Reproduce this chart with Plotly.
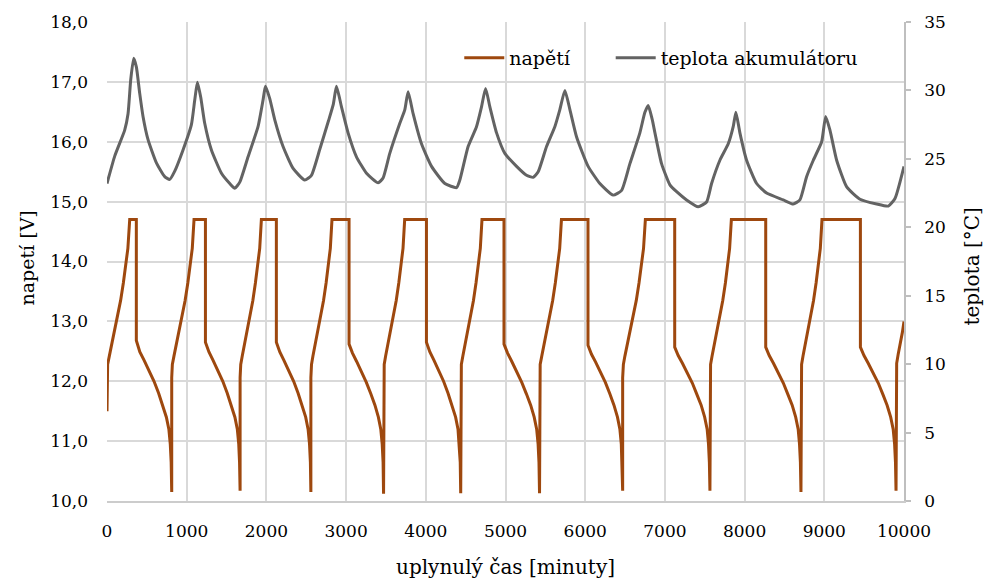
import plotly.graph_objects as go

# ---------------- data ----------------
# voltage [V] vs elapsed time [minutes]; one line per charge / discharge phase
volt_t = [
    0, 8, 29, 57, 94, 131, 171, 205, 237, 262, 285, 368,
    368, 412, 466, 528, 590, 648, 701, 745, 776, 794, 805, 812,
    812, 820, 840, 868, 904, 941, 980, 1014, 1044, 1070, 1092, 1235,
    1235, 1279, 1331, 1392, 1453, 1509, 1561, 1605, 1635, 1653, 1663, 1670,
    1670, 1678, 1697, 1723, 1758, 1793, 1830, 1862, 1892, 1916, 1937, 2125,
    2125, 2168, 2220, 2281, 2342, 2398, 2450, 2493, 2523, 2541, 2552, 2558,
    2558, 2566, 2584, 2611, 2645, 2680, 2717, 2749, 2778, 2802, 2823, 3037,
    3037, 3080, 3132, 3193, 3254, 3310, 3362, 3405, 3435, 3453, 3464, 3470,
    3470, 3478, 3496, 3523, 3557, 3592, 3629, 3661, 3690, 3714, 3735, 4008,
    4008, 4051, 4103, 4163, 4223, 4279, 4331, 4374, 4404, 4421, 4432, 4438,
    4438, 4446, 4465, 4491, 4526, 4561, 4598, 4630, 4660, 4684, 4705, 4981,
    4981, 5026, 5079, 5142, 5204, 5262, 5316, 5360, 5391, 5409, 5420, 5427,
    5427, 5435, 5455, 5482, 5518, 5554, 5592, 5625, 5655, 5680, 5702, 6035,
    6035, 6079, 6131, 6192, 6253, 6309, 6361, 6405, 6435, 6453, 6463, 6470,
    6470, 6479, 6498, 6527, 6564, 6601, 6641, 6675, 6707, 6732, 6755, 7123,
    7123, 7167, 7220, 7282, 7344, 7401, 7455, 7499, 7530, 7547, 7558, 7565,
    7565, 7573, 7592, 7619, 7654, 7689, 7726, 7759, 7788, 7812, 7834, 8265,
    8265, 8309, 8362, 8424, 8486, 8543, 8597, 8641, 8672, 8689, 8700, 8707,
    8707, 8715, 8733, 8760, 8794, 8828, 8865, 8897, 8926, 8950, 8971, 9453,
    9453, 9498, 9551, 9614, 9677, 9735, 9788, 9833, 9864, 9882, 9893, 9900,
    9900, 9908, 9927, 9953, 9980, 10000,
]
volt_v = [
    11.5, 12.28, 12.42, 12.6, 12.84, 13.06, 13.35, 13.64, 13.92, 14.22, 14.7, 14.7,
    12.68, 12.49, 12.35, 12.18, 12.0, 11.8, 11.6, 11.4, 11.2, 10.95, 10.65, 10.15,
    12.06, 12.28, 12.42, 12.6, 12.84, 13.06, 13.35, 13.64, 13.92, 14.22, 14.7, 14.7,
    12.65, 12.49, 12.35, 12.18, 12.0, 11.8, 11.6, 11.4, 11.2, 10.95, 10.65, 10.17,
    12.06, 12.28, 12.42, 12.6, 12.84, 13.06, 13.35, 13.64, 13.92, 14.22, 14.7, 14.7,
    12.65, 12.49, 12.35, 12.18, 12.0, 11.8, 11.6, 11.4, 11.2, 10.95, 10.65, 10.15,
    12.06, 12.28, 12.42, 12.6, 12.84, 13.06, 13.35, 13.64, 13.92, 14.22, 14.7, 14.7,
    12.62, 12.47, 12.33, 12.16, 11.98, 11.79, 11.6, 11.4, 11.2, 10.95, 10.65, 10.12,
    12.06, 12.28, 12.42, 12.6, 12.84, 13.06, 13.35, 13.64, 13.92, 14.22, 14.7, 14.7,
    12.65, 12.49, 12.35, 12.18, 12.0, 11.8, 11.6, 11.4, 11.2, 10.95, 10.65, 10.13,
    12.06, 12.28, 12.42, 12.6, 12.84, 13.06, 13.35, 13.64, 13.92, 14.22, 14.7, 14.7,
    12.62, 12.47, 12.33, 12.16, 11.98, 11.79, 11.6, 11.4, 11.2, 10.95, 10.65, 10.13,
    12.06, 12.28, 12.42, 12.6, 12.84, 13.06, 13.35, 13.64, 13.92, 14.22, 14.7, 14.7,
    12.6, 12.45, 12.32, 12.16, 11.98, 11.79, 11.6, 11.4, 11.2, 10.95, 10.65, 10.17,
    12.06, 12.28, 12.42, 12.6, 12.84, 13.06, 13.35, 13.64, 13.92, 14.22, 14.7, 14.7,
    12.57, 12.43, 12.3, 12.14, 11.97, 11.78, 11.6, 11.4, 11.2, 10.95, 10.65, 10.17,
    12.06, 12.28, 12.42, 12.6, 12.84, 13.06, 13.35, 13.64, 13.92, 14.22, 14.7, 14.7,
    12.57, 12.43, 12.3, 12.14, 11.97, 11.78, 11.6, 11.4, 11.2, 10.95, 10.65, 10.15,
    12.06, 12.28, 12.42, 12.6, 12.84, 13.06, 13.35, 13.64, 13.92, 14.22, 14.7, 14.7,
    12.57, 12.43, 12.3, 12.14, 11.97, 11.78, 11.6, 11.4, 11.2, 10.95, 10.65, 10.17,
    12.1, 12.3, 12.45, 12.62, 12.82, 13.0,
]

# battery temperature [°C] vs elapsed time [minutes]
temp_t = [
    0, 97, 222, 264, 298, 335, 369, 410, 452, 515, 620, 724, 787,
    850, 954, 1059, 1101, 1134, 1176, 1226, 1310, 1436, 1540, 1603,
    1666, 1770, 1895, 1958, 1988, 2042, 2105, 2209, 2335, 2481,
    2565, 2670, 2780, 2840, 2879, 2942, 3025, 3130, 3256, 3402,
    3464, 3548, 3674, 3737, 3778, 3841, 3946, 4072, 4239, 4386,
    4427, 4531, 4636, 4699, 4750, 4804, 4888, 4992, 5139, 5264, 5347,
    5410, 5515, 5619, 5682, 5745, 5808, 5892, 6037, 6184, 6351,
    6457, 6561, 6686, 6749, 6791, 6840, 6875, 6958, 7063, 7147, 7272, 7418,
    7523, 7586, 7690, 7795, 7857, 7891, 7941, 8025, 8151, 8276, 8485, 8610,
    8694, 8778, 8862, 8967, 9017, 9071, 9155, 9281, 9448, 9657, 9803,
    9887, 10000,
]
temp_c = [
    23.2, 25.2, 27.1, 28.3, 30.8, 32.35, 31.7, 29.8, 28.1, 26.4, 24.7, 23.7, 23.5,
    24.1, 25.65, 27.5, 29.3, 30.6, 29.5, 27.6, 25.65, 23.95, 23.2, 22.85,
    23.3, 25.15, 27.35, 29.3, 30.3, 29.4, 27.85, 25.9, 24.3, 23.45,
    23.8, 25.7, 27.8, 29.0, 30.3, 28.8, 26.9, 25.15, 23.95, 23.25,
    23.6, 25.4, 27.6, 28.6, 29.9, 28.3, 26.1, 24.45, 23.2, 22.9,
    23.45, 25.9, 27.35, 28.8, 30.15, 28.8, 26.9, 25.4, 24.45, 23.8, 23.65,
    24.05, 25.9, 27.35, 28.6, 30.0, 28.6, 26.6, 24.45, 23.2, 22.35,
    22.7, 24.65, 26.9, 28.4, 28.9, 27.9, 26.9, 24.65, 23.1, 22.6, 22.0, 21.5,
    21.85, 23.2, 24.9, 26.1, 27.35, 28.4, 26.9, 24.9, 23.2, 22.5, 22.0, 21.7,
    22.0, 23.7, 24.9, 26.25, 28.1, 27.1, 24.9, 22.95, 22.05, 21.7, 21.55,
    22.1, 24.45,
]

series_names = ["napětí", "teplota akumulátoru"]
x_title = "uplynulý čas [minuty]"
y_title = "napetí [V]"
y2_title = "teplota [°C]"

# ---------------- styling ----------------
FONT = "DejaVu Serif"
VOLT_COLOR = "#9E480E"
TEMP_COLOR = "#636363"
GRID = "#d9d9d9"

fig = go.Figure()
fig.add_trace(go.Scatter(
    x=volt_t, y=volt_v, name=series_names[0], mode="lines",
    line=dict(color=VOLT_COLOR, width=3), yaxis="y", legend="legend",
))
fig.add_trace(go.Scatter(
    x=temp_t, y=temp_c, name=series_names[1], mode="lines",
    line=dict(color=TEMP_COLOR, width=3, shape="spline", smoothing=0.5),
    yaxis="y2", legend="legend2",
))

legend_common = dict(
    orientation="h", y=0.9248, xanchor="left", yanchor="middle",
    bgcolor="rgba(0,0,0,0)", font=dict(size=19), itemwidth=40,
)

fig.update_layout(
    width=986, height=582,
    margin=dict(l=107, r=82, t=22, b=81),
    paper_bgcolor="white", plot_bgcolor="white",
    separators=", ",
    font=dict(family=FONT, size=17, color="#000000"),
    showlegend=True,
    legend=dict(x=0.442, **legend_common),
    legend2=dict(x=0.632, **legend_common),
    xaxis=dict(
        range=[0, 10000], dtick=1000, tick0=0, tickformat="d",
        showgrid=True, gridcolor=GRID, gridwidth=1.5,
        showline=True, linecolor="#cccccc", linewidth=1.5,
        zeroline=False, ticks="", ticklabelstandoff=14,
    ),
    yaxis=dict(
        range=[10, 18], dtick=1, tick0=10, tickformat=".1f",
        showgrid=True, gridcolor=GRID, gridwidth=1.5,
        zeroline=False, showline=False, ticks="", ticklabelstandoff=18,
    ),
    yaxis2=dict(
        range=[0, 35], dtick=5, tick0=0, overlaying="y", side="right",
        showgrid=False, zeroline=False,
        showline=True, linecolor="#bfbfbf", linewidth=1.5,
        ticks="outside", ticklen=5, tickcolor="#bfbfbf", tickwidth=1.5,
        ticklabelstandoff=10,
    ),
    annotations=[
        dict(text=x_title, xref="paper", yref="paper", x=0.5, y=0,
             xanchor="center", yanchor="middle", yshift=-66, showarrow=False,
             font=dict(size=20)),
        dict(text=y_title, xref="paper", yref="paper", x=0, y=0.5,
             xanchor="center", yanchor="middle", xshift=-81, yshift=3,
             textangle=-90, showarrow=False, font=dict(size=19)),
        dict(text=y2_title, xref="paper", yref="paper", x=1, y=0.5,
             xanchor="center", yanchor="middle", xshift=67, yshift=-5,
             textangle=-90, showarrow=False, font=dict(size=20)),
    ],
)

# remove the browser's default 8 px page margin so the 986x582 figure fits exactly
fig.write_html(
    "out.html",
    config={"displayModeBar": False},
    post_script="document.body.style.margin='0';document.body.style.overflow='hidden';",
)
